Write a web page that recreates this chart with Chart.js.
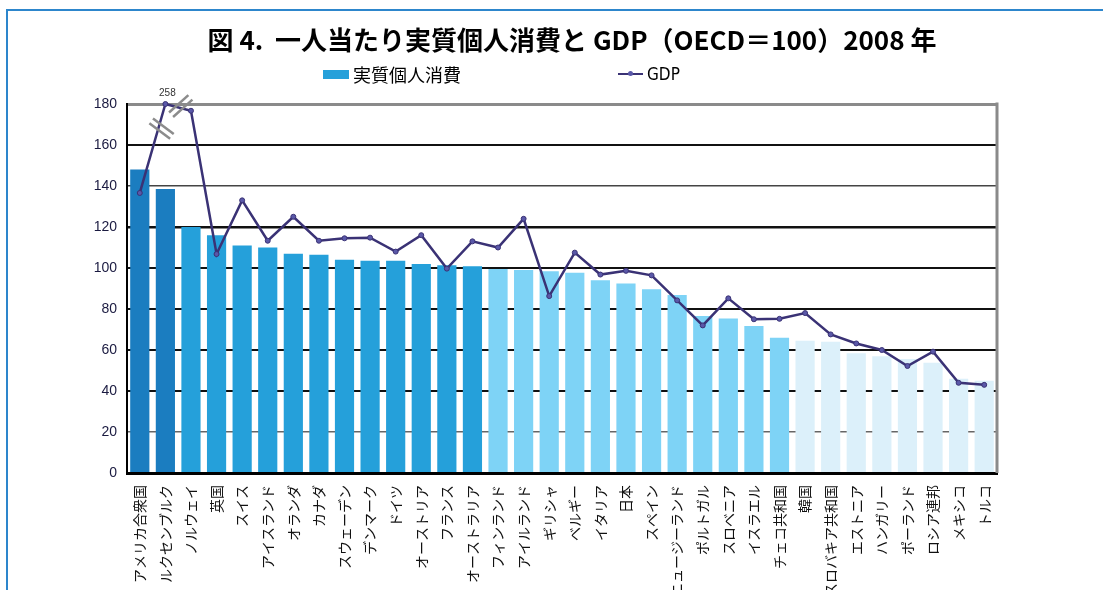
<!DOCTYPE html>
<html lang="ja">
<head>
<meta charset="utf-8">
<title>一人当たり実質個人消費と GDP</title>
<script src="https://cdn.jsdelivr.net/npm/chart.js@4.4.1/dist/chart.umd.min.js"></script>
<style>
  html, body { margin: 0; padding: 0; background: #fff; }
  #page { position: relative; width: 1103px; height: 590px; overflow: hidden; }
  #frame {
    position: absolute; left: 6px; top: 9px; width: 1097px; height: 581px;
    border-top: 2px solid #2d86cc; border-left: 2px solid #2d86cc;
  }
  #title {
    position: absolute; left: 572px; top: 20px; transform: translateX(-50%);
    white-space: nowrap; font-family: "Noto Sans CJK JP", sans-serif;
    font-weight: bold; font-size: 26px; color: #000;
  }
  .legend-item { position: absolute; top: 62px; height: 24px; display: flex; align-items: center; white-space: nowrap; }
  .legend-box { width: 26px; height: 9px; background: #25a0da; margin-right: 4px; }
  .legend-line { position: relative; width: 25px; height: 2px; background: #3a3275; margin-right: 4px; }
  .legend-line::after {
    content: ""; position: absolute; left: 10px; top: -2px; width: 5px; height: 5px;
    border-radius: 50%; background: #5a58a8;
  }
  #chart { position: absolute; left: 0; top: 0; }
</style>
</head>
<body>
<div id="page">
  <div id="frame"></div>
  <canvas id="chart" width="1103" height="590"></canvas>
  <div id="title">図 4.&nbsp; 一人当たり実質個人消費と GDP（OECD＝100）2008 年</div>
  <div class="legend-item" style="left:323px; font-family:'Noto Sans CJK JP',sans-serif; font-size:18px;">
    <span class="legend-box"></span><span>実質個人消費</span>
  </div>
  <div class="legend-item" style="left:618px; font-family:'Liberation Sans Narrow','DejaVu Sans Condensed',sans-serif; font-size:17px;">
    <span class="legend-line"></span><span>GDP</span>
  </div>
</div>

<script>
/* ========== DATA ========== */
const countries = [
    "アメリカ合衆国", "ルクセンブルク", "ノルウェイ", "英国", "スイス", "アイスランド",
    "オランダ", "カナダ", "スウェーデン", "デンマーク", "ドイツ", "オーストリア",
    "フランス", "オーストラリア", "フィンランド", "アイルランド", "ギリシャ", "ベルギー",
    "イタリア", "日本", "スペイン", "ニュージーランド", "ポルトガル", "スロベニア",
    "イスラエル", "チェコ共和国", "韓国", "スロバキア共和国", "エストニア", "ハンガリー",
    "ポーランド", "ロシア連邦", "メキシコ", "トルコ"
];

// 実質個人消費 (OECD=100)
const consumption = [
    148, 138.5, 120, 116, 111, 110,
    107, 106.5, 104, 103.5, 103.5, 102,
    101.3, 100.8, 99.5, 99, 98.4, 97.7,
    94, 92.5, 89.6, 86.8, 76.6, 75.4,
    71.7, 66, 64.5, 64, 58.4, 57,
    55.6, 53.8, 46, 45
];

// GDP (OECD=100)
const gdp = [
    136.6, 258, 176.7, 106.8, 133, 113.3,
    125, 113.3, 114.5, 114.8, 108, 116,
    99.7, 113, 110, 124, 86.3, 107.5,
    96.8, 98.6, 96.4, 84.2, 72, 85.2,
    75, 75.2, 78, 67.6, 63.2, 60,
    52.2, 59.2, 44, 43
];

const yTicks = [0, 20, 40, 60, 80, 100, 120, 140, 160, 180];
const Y_MAX = 180;

/* ====== STYLE ====== */
const barColor = ctx => {
    const i = ctx.dataIndex;
    if (i < 2) return "#1b7dc0";
    if (i < 14) return "#25a0da";
    if (i < 26) return "#7ed3f6";
    return "#dcf0fa";
};

const gridColor = ctx => {
    const v = ctx.tick ? ctx.tick.value : 0;
    if (v === 180) return "#8a8a8a";
    if (v === 20) return "#666";
    if (v === 140) return "#444";
    return "#111";
};
const gridWidth = ctx => {
    const v = ctx.tick ? ctx.tick.value : 0;
    if (v === 180) return 3;
    if (v === 120) return 2.5;
    if (v === 20 || v === 140) return 1.5;
    return 2;
};

// GDP values above the axis are cut at the top (the break marks show it)
const gdpShown = gdp.map(v => Math.min(v, Y_MAX));

/* ====== EXTRA DRAWING: right frame, break marks, 258 label ====== */
const extras = {
    id: "extras",
    afterDatasetsDraw(chart) {
        const { ctx, chartArea, scales: { x, y } } = chart;
        ctx.save();

        // right side of the plot frame
        ctx.strokeStyle = "#8a8a8a";
        ctx.lineWidth = 3;
        ctx.beginPath();
        ctx.moveTo(chartArea.right, chartArea.top - 1.5);
        ctx.lineTo(chartArea.right, chartArea.bottom);
        ctx.stroke();

        // break marks on the ルクセンブルク line
        const step = x.getPixelForValue(1) - x.getPixelForValue(0);
        const marks = [
            { at: 0.85, v: 168, ang: 37 },
            { at: 1.6, v: 179, ang: -42 }
        ];
        ctx.strokeStyle = "#8c8c8c";
        ctx.lineWidth = 2.5;
        marks.forEach(m => {
            const cx = x.getPixelForValue(0) + m.at * step;
            const cy = y.getPixelForValue(m.v);
            const a = m.ang * Math.PI / 180;
            const dx = Math.cos(a) * 13, dy = Math.sin(a) * 13;
            const ox = -Math.sin(a) * 3, oy = Math.cos(a) * 3;
            [-1, 1].forEach(s => {
                ctx.beginPath();
                ctx.moveTo(cx - dx + s * ox, cy - dy + s * oy);
                ctx.lineTo(cx + dx + s * ox, cy + dy + s * oy);
                ctx.stroke();
            });
        });

        // real value of the clipped point
        const lx = x.getPixelForValue(1);
        ctx.fillStyle = "#333";
        ctx.font = "10px 'Liberation Sans', Arial, sans-serif";
        ctx.textAlign = "center";
        ctx.textBaseline = "bottom";
        ctx.fillText(String(gdp[1]), lx + 2, chartArea.top - 6);

        ctx.restore();
    }
};

/* ====== CHART ====== */
new Chart(document.getElementById("chart"), {
    type: "bar",
    data: {
        labels: countries,
        datasets: [
            {
                type: "line",
                label: "GDP",
                data: gdpShown,
                borderColor: "#3a3275",
                borderWidth: 2.5,
                tension: 0,
                pointRadius: 2.5,
                pointBackgroundColor: "#5a58a8",
                pointBorderColor: "#3a3275",
                pointBorderWidth: 1,
                clip: false,
                order: 0
            },
            {
                type: "bar",
                label: "実質個人消費",
                data: consumption,
                backgroundColor: barColor,
                barPercentage: 0.75,
                categoryPercentage: 1,
                order: 1
            }
        ]
    },
    options: {
        responsive: false,
        animation: false,
        layout: { padding: { top: 104, right: 106, left: 0, bottom: 0 } },
        plugins: {
            legend: { display: false },
            title: { display: false },
            tooltip: { enabled: false }
        },
        scales: {
            x: {
                grid: { display: false },
                border: { display: true, color: "#000", width: 3 },
                ticks: {
                    autoSkip: false,
                    minRotation: 90,
                    maxRotation: 90,
                    padding: 4,
                    color: "#111",
                    font: { family: "'Noto Sans CJK JP', sans-serif", size: 14 }
                },
                afterFit(scale) { scale.height = 117; }
            },
            y: {
                min: 0,
                max: Y_MAX,
                afterBuildTicks(scale) { scale.ticks = yTicks.map(v => ({ value: v })); },
                grid: { color: gridColor, lineWidth: gridWidth, drawTicks: false },
                border: { display: true, color: "#000", width: 2 },
                ticks: {
                    padding: 10,
                    color: "#1a1a40",
                    font: { family: "'Liberation Sans', Arial, sans-serif", size: 14 }
                },
                afterFit(scale) { scale.width = 127; }
            }
        }
    },
    plugins: [extras]
});
</script>
</body>
</html>
